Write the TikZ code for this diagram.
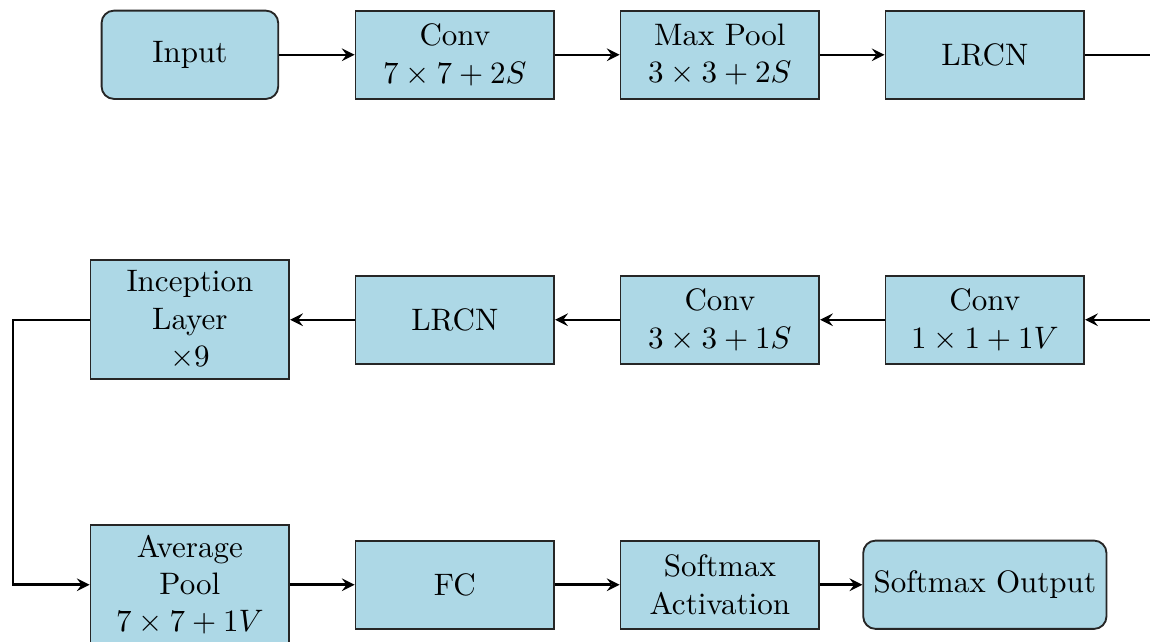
\documentclass[tikz,border=0pt]{standalone}
\usetikzlibrary{
    arrows,
    arrows.meta,
    shapes,
    calc
}
\definecolor{boxblue}{RGB}{173,216,230}
\tikzset{%
    >=stealth,
    % Specifications for style of nodes:
    base/.style = {
        rectangle, draw=black!85, semithick, fill=boxblue,
        minimum height=1cm, text centered, align=center
    },
    layer/.style = {base, minimum width=2.25cm},
    io/.style = {base, rounded corners, minimum width=2cm},
    flow/.style = {->, thick}
}
\begin{document}
\begin{tikzpicture}
    \useasboundingbox (-2.15,-6.64) rectangle (10.87,0.62);
    % first row
    \node[io] (input) at (0,0) {Input};
    \node[layer] (conv1) at (3,0) {Conv\\$7\times7+2S$};
    \node[layer] (pool1) at (6,0) {Max Pool\\$3\times3+2S$};
    \node[layer] (lrcn1) at (9,0) {LRCN};
    % second row
    \node[layer] (conv2) at (9,-3) {Conv\\$1\times1+1V$};
    \node[layer] (conv3) at (6,-3) {Conv\\$3\times3+1S$};
    \node[layer] (lrcn2) at (3,-3) {LRCN};
    \node[layer] (incep) at (0,-3) {Inception\\Layer\\$\times9$};
    % third row
    \node[layer] (avgpool) at (0,-6) {Average\\Pool\\$7\times7+1V$};
    \node[layer] (fc) at (3,-6) {FC};
    \node[layer] (smact) at (6,-6) {Softmax\\Activation};
    \node[io] (smout) at (9,-6) {Softmax Output};
    % connections
    \draw[flow] (input) -- (conv1);
    \draw[flow] (conv1) -- (pool1);
    \draw[flow] (pool1) -- (lrcn1);
    \draw[flow] (lrcn1.east) -- ++(1,0) |- (conv2.east);
    \draw[flow] (conv2) -- (conv3);
    \draw[flow] (conv3) -- (lrcn2);
    \draw[flow] (lrcn2) -- (incep);
    \draw[flow] (incep.west) -- ($(incep.west)+(-0.87,0)$) |- (avgpool.west);
    \draw[flow] (avgpool) -- (fc);
    \draw[flow] (fc) -- (smact);
    \draw[flow] (smact) -- (smout);
\end{tikzpicture}
\end{document}
